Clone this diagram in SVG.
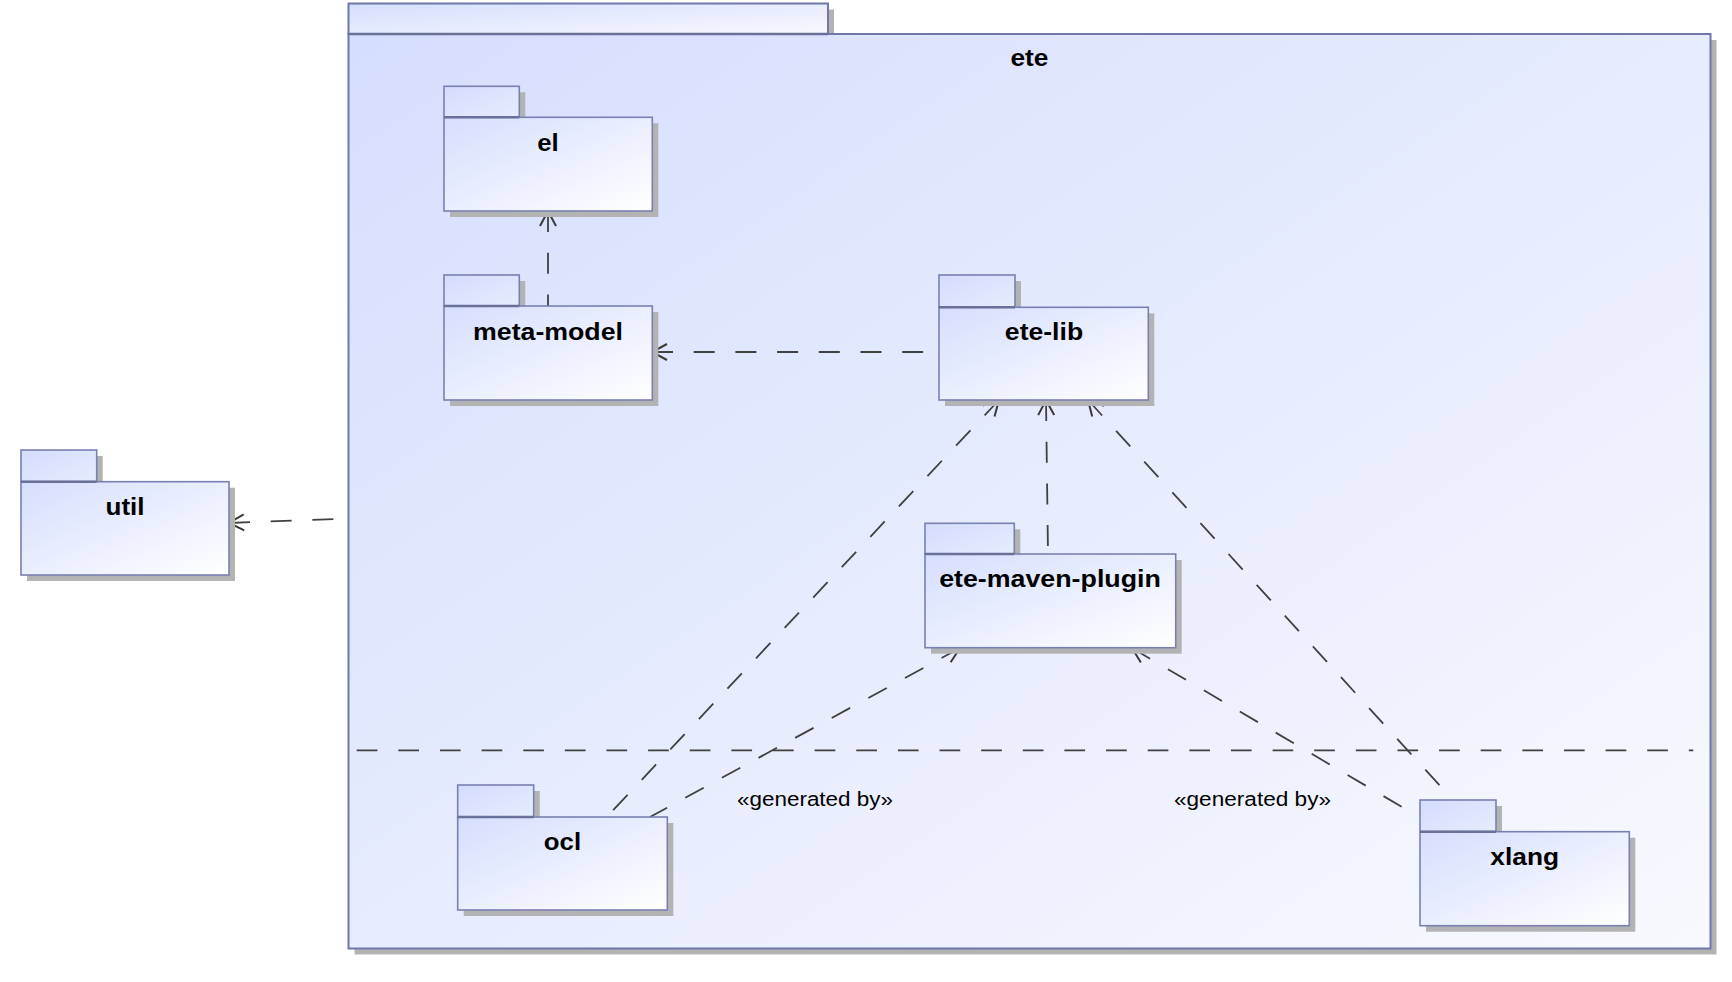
<svg xmlns="http://www.w3.org/2000/svg" width="1732" height="982" viewBox="0 0 1732 982">
  <defs>
    <linearGradient id="pkgFill" x1="0" y1="0" x2="1" y2="1">
      <stop offset="0" stop-color="#d5defd"/>
      <stop offset="1" stop-color="#ffffff"/>
    </linearGradient>
    <linearGradient id="tabFill" x1="0" y1="0" x2="1" y2="1">
      <stop offset="0" stop-color="#d3dcfd"/>
      <stop offset="1" stop-color="#e6ecfe"/>
    </linearGradient>
    <linearGradient id="outerFill" x1="0" y1="0" x2="1" y2="1">
      <stop offset="0" stop-color="#d5defd"/>
      <stop offset="1" stop-color="#f8f9fe"/>
    </linearGradient>
    <marker id="openArrow" markerUnits="userSpaceOnUse" markerWidth="26" markerHeight="26" viewBox="-4 -13 26 26" refX="0" refY="0" orient="auto">
      <path d="M15,-8 L0,0 L15,8" fill="none" stroke="#383838" stroke-width="2"/>
    </marker>
  </defs>
  <style>
    .shadow { fill: #b3b3b3; }
    .body { fill: url(#pkgFill); stroke: #7880b2; stroke-width: 1.6; }
    .tab { fill: url(#tabFill); stroke: #7880b2; stroke-width: 1.6; }
    .tabline { stroke: #687198; stroke-width: 2.4; }
    .outer { fill: url(#outerFill); stroke: #6f78a8; stroke-width: 2; }
    .name { font-family: "Liberation Sans", Arial, sans-serif; font-weight: bold; font-size: 23px; fill: #000; text-anchor: middle; }
    .stereo { font-family: "Liberation Sans", Arial, sans-serif; font-size: 20px; fill: #000; }
    .dep { fill: none; stroke: #404040; stroke-width: 1.8; stroke-dasharray: 21 20.7; marker-start: url(#openArrow); }
    .sep { fill: none; stroke: #404040; stroke-width: 1.8; stroke-dasharray: 20.7 20.93; }
  </style>

  <!-- enclosing package: ete -->
  <g id="ete">
    <rect class="shadow" x="354.5" y="9.5" width="479.5" height="30.5"/>
    <rect class="shadow" x="354.5" y="40" width="1362" height="914.5"/>
    <rect class="outer" x="348.5" y="3.5" width="479.5" height="30.5"/>
    <rect class="outer" x="348.5" y="34" width="1362" height="914.5"/>
    <line class="tabline" x1="348.5" y1="34" x2="828" y2="34"/>
    <text class="name" x="1029.5" y="66" textLength="38" lengthAdjust="spacingAndGlyphs">ete</text>
  </g>

  <!-- partition line inside ete -->
  <line class="sep" x1="356.7" y1="750.3" x2="1693.3" y2="750.3"/>

  <!-- dependencies (each path starts at the arrow tip) -->
  <g id="connectors">
    <path class="dep" d="M548,211 L548,306"/>
    <path class="dep" d="M652,352 L939,352"/>
    <path class="dep" d="M229,523 L334,519"/>
    <path class="dep" d="M999,400 L606.7,817"/>
    <path class="dep" d="M960,648 L650,817"/>
    <path class="dep" d="M1046,400 L1048,554"/>
    <path class="dep" d="M1088,400 L1453,800"/>
    <path class="dep" d="M1132,648 L1419,817"/>
    <text class="stereo" x="737" y="806" textLength="156" lengthAdjust="spacingAndGlyphs">«generated by»</text>
    <text class="stereo" x="1174" y="806" textLength="157" lengthAdjust="spacingAndGlyphs">«generated by»</text>
  </g>

  <g id="el">
    <rect class="shadow" x="450" y="92.3" width="75.3" height="31"/>
    <rect class="shadow" x="450" y="123.3" width="208.3" height="93.7"/>
    <rect class="tab" x="444" y="86.3" width="75.3" height="31"/>
    <rect class="body" x="444" y="117.3" width="208.3" height="93.7"/>
    <line class="tabline" x1="444" y1="117.3" x2="519.3" y2="117.3"/>
    <text class="name" x="548" y="151" textLength="21.5" lengthAdjust="spacingAndGlyphs">el</text>
  </g>

  <g id="meta-model">
    <rect class="shadow" x="450" y="281" width="75.3" height="31"/>
    <rect class="shadow" x="450" y="312" width="208.3" height="94"/>
    <rect class="tab" x="444" y="275" width="75.3" height="31"/>
    <rect class="body" x="444" y="306" width="208.3" height="94"/>
    <line class="tabline" x1="444" y1="306" x2="519.3" y2="306"/>
    <text class="name" x="548" y="340" textLength="150" lengthAdjust="spacingAndGlyphs">meta-model</text>
  </g>

  <g id="ete-lib">
    <rect class="shadow" x="945" y="281" width="76" height="32.3"/>
    <rect class="shadow" x="945" y="313.3" width="209.3" height="92.7"/>
    <rect class="tab" x="939" y="275" width="76" height="32.3"/>
    <rect class="body" x="939" y="307.3" width="209.3" height="92.7"/>
    <line class="tabline" x1="939" y1="307.3" x2="1015" y2="307.3"/>
    <text class="name" x="1044" y="340" textLength="78.3" lengthAdjust="spacingAndGlyphs">ete-lib</text>
  </g>

  <g id="util">
    <rect class="shadow" x="27" y="456" width="75.7" height="31.7"/>
    <rect class="shadow" x="27" y="487.7" width="208" height="93.3"/>
    <rect class="tab" x="21" y="450" width="75.7" height="31.7"/>
    <rect class="body" x="21" y="481.7" width="208" height="93.3"/>
    <line class="tabline" x1="21" y1="481.7" x2="96.7" y2="481.7"/>
    <text class="name" x="125" y="515" textLength="39" lengthAdjust="spacingAndGlyphs">util</text>
  </g>

  <g id="ete-maven-plugin">
    <rect class="shadow" x="931" y="529.3" width="89.3" height="30.7"/>
    <rect class="shadow" x="931" y="560" width="250.7" height="93.7"/>
    <rect class="tab" x="925" y="523.3" width="89.3" height="30.7"/>
    <rect class="body" x="925" y="554" width="250.7" height="93.7"/>
    <line class="tabline" x1="925" y1="554" x2="1014.3" y2="554"/>
    <text class="name" x="1050" y="587.3" textLength="221.7" lengthAdjust="spacingAndGlyphs">ete-maven-plugin</text>
  </g>

  <g id="ocl">
    <rect class="shadow" x="463.7" y="791" width="76" height="32"/>
    <rect class="shadow" x="463.7" y="823" width="209.6" height="93"/>
    <rect class="tab" x="457.7" y="785" width="76" height="32"/>
    <rect class="body" x="457.7" y="817" width="209.6" height="93"/>
    <line class="tabline" x1="457.7" y1="817" x2="533.7" y2="817"/>
    <text class="name" x="562.5" y="850" textLength="37.3" lengthAdjust="spacingAndGlyphs">ocl</text>
  </g>

  <g id="xlang">
    <rect class="shadow" x="1426" y="806" width="76" height="31.7"/>
    <rect class="shadow" x="1426" y="837.7" width="209.3" height="94"/>
    <rect class="tab" x="1420" y="800" width="76" height="31.7"/>
    <rect class="body" x="1420" y="831.7" width="209.3" height="94"/>
    <line class="tabline" x1="1420" y1="831.7" x2="1496" y2="831.7"/>
    <text class="name" x="1524.7" y="865" textLength="68.7" lengthAdjust="spacingAndGlyphs">xlang</text>
  </g>
</svg>
